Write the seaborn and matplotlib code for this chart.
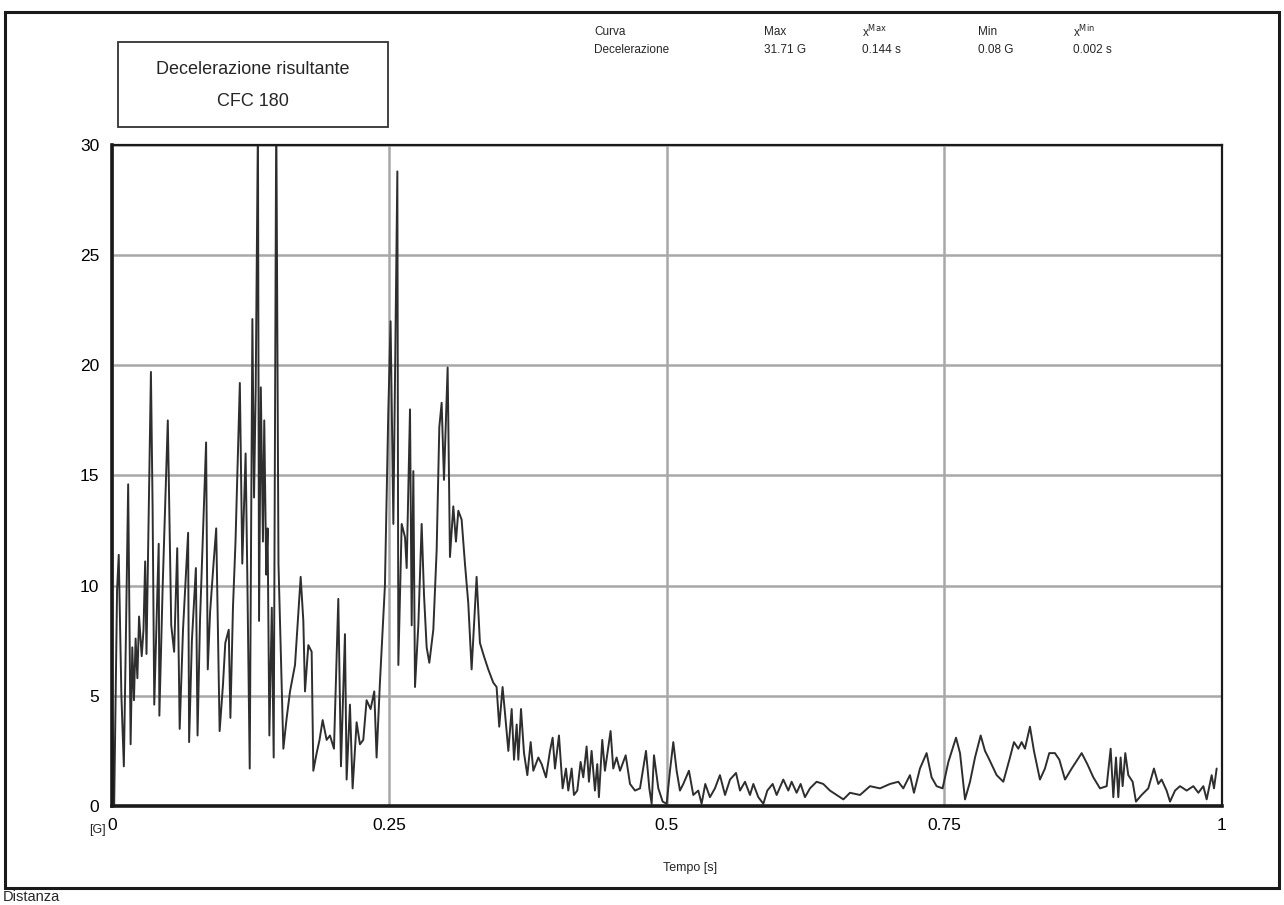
import numpy as np
import pandas as pd
import seaborn as sns
import matplotlib.pyplot as plt
from matplotlib.patches import Rectangle

# values (time in s, resultant deceleration in G)
time_s = [
    0.000, 0.002, 0.0046, 0.0061, 0.0085, 0.0107, 0.0125, 0.0146, 0.0168, 0.0183,
    0.0198, 0.0213, 0.0229, 0.0244, 0.0268, 0.0284, 0.0299, 0.0311, 0.0351, 0.0366,
    0.0381, 0.0421, 0.0427, 0.0457, 0.0503, 0.0534, 0.0560, 0.0588, 0.0610, 0.0640,
    0.0686, 0.0695, 0.0720, 0.0756, 0.0771, 0.0793, 0.0848, 0.0863, 0.0884, 0.0915,
    0.0939, 0.0970, 0.1000, 0.1021, 0.1052, 0.1067, 0.1090, 0.1113, 0.1152, 0.1174,
    0.1204, 0.1220, 0.1241, 0.1265, 0.1280, 0.1295, 0.1315, 0.1325, 0.1341, 0.1360,
    0.1372, 0.1390, 0.1402, 0.1418, 0.1440, 0.1457, 0.1480, 0.1500, 0.1544, 0.1574,
    0.1604, 0.1649, 0.1700, 0.1724, 0.1739, 0.1769, 0.1799, 0.1814, 0.1844, 0.1870,
    0.1898, 0.1934, 0.1964, 0.2000, 0.2039, 0.2063, 0.2099, 0.2114, 0.2144, 0.2168,
    0.2204, 0.2234, 0.2264, 0.2294, 0.2330, 0.2363, 0.2384, 0.2414, 0.2459, 0.2489,
    0.2510, 0.2535, 0.2571, 0.2580, 0.2610, 0.2640, 0.2655, 0.2685, 0.2700, 0.2715,
    0.2730, 0.2760, 0.2790, 0.2811, 0.2835, 0.2859, 0.2895, 0.2925, 0.2949, 0.2970,
    0.2991, 0.3024, 0.3045, 0.3075, 0.3099, 0.3120, 0.3150, 0.3180, 0.3210, 0.3240,
    0.3285, 0.3315, 0.3351, 0.3390, 0.3435, 0.3465, 0.3489, 0.3519, 0.3541, 0.3571,
    0.3601, 0.3622, 0.3646, 0.3661, 0.3685, 0.3712, 0.3742, 0.3772, 0.3796, 0.3841,
    0.3871, 0.3910, 0.3946, 0.3970, 0.3991, 0.4027, 0.4060, 0.4090, 0.4111, 0.4141,
    0.4162, 0.4192, 0.4222, 0.4246, 0.4276, 0.4297, 0.4321, 0.4351, 0.4372, 0.4387,
    0.4417, 0.4441, 0.4492, 0.4516, 0.4546, 0.4577, 0.4628, 0.4667, 0.4712, 0.4757,
    0.4811, 0.4841, 0.4862, 0.4883, 0.4922, 0.4961, 0.4997, 0.5027, 0.5057, 0.5087,
    0.5117, 0.5147, 0.5198, 0.5237, 0.5282, 0.5312, 0.5345, 0.5387, 0.5432, 0.5477,
    0.5523, 0.5568, 0.5622, 0.5658, 0.5703, 0.5748, 0.5778, 0.5823, 0.5868, 0.5904,
    0.5952, 0.5988, 0.6048, 0.6093, 0.6123, 0.6168, 0.6204, 0.6243, 0.6288, 0.6348,
    0.6408, 0.6468, 0.6529, 0.6589, 0.6649, 0.6739, 0.6829, 0.6919, 0.7009, 0.7084,
    0.7129, 0.7189, 0.7225, 0.7279, 0.7339, 0.7384, 0.7429, 0.7483, 0.7535, 0.7604,
    0.7640, 0.7685, 0.7730, 0.7775, 0.7826, 0.7865, 0.7895, 0.7970, 0.8030, 0.8090,
    0.8126, 0.8165, 0.8195, 0.8225, 0.8270, 0.8306, 0.8360, 0.8405, 0.8444, 0.8495,
    0.8535, 0.8586, 0.8646, 0.8736, 0.8787, 0.8841, 0.8901, 0.8961, 0.8997, 0.9021,
    0.9045, 0.9066, 0.9087, 0.9105, 0.9129, 0.9156, 0.9195, 0.9225, 0.9276, 0.9336,
    0.9387, 0.9426, 0.9456, 0.9501, 0.9532, 0.9577, 0.9622, 0.9682, 0.9742, 0.9787,
    0.9832, 0.9862, 0.9907, 0.9928, 0.9952,
]
decel_g = [
    4.5, 0.08, 9.8, 11.4, 5.0, 1.8, 7.5, 14.6, 2.8, 7.2,
    4.8, 7.6, 5.8, 8.6, 6.8, 8.0, 11.1, 6.9, 19.7, 13.6,
    4.6, 11.9, 4.1, 10.0, 17.5, 8.2, 7.0, 11.7, 3.5, 8.0,
    12.4, 2.9, 7.5, 10.8, 3.2, 8.4, 16.5, 6.2, 8.8, 11.0,
    12.6, 3.4, 5.5, 7.4, 8.0, 4.0, 9.0, 12.0, 19.2, 11.0,
    16.0, 10.2, 1.7, 22.1, 14.0, 19.0, 31.0, 8.4, 19.0, 12.0,
    17.5, 10.5, 12.6, 3.2, 9.0, 2.2, 31.71, 11.0, 2.6, 4.0,
    5.2, 6.4, 10.4, 8.4, 5.2, 7.3, 7.0, 1.6, 2.4, 3.0,
    3.9, 3.0, 3.2, 2.6, 9.4, 1.8, 7.8, 1.2, 4.6, 0.8,
    3.8, 2.8, 3.0, 4.8, 4.4, 5.2, 2.2, 5.6, 10.0, 17.8,
    22.0, 12.8, 28.8, 6.4, 12.8, 12.2, 10.8, 18.0, 8.2, 15.2,
    5.4, 8.2, 12.8, 9.6, 7.2, 6.5, 8.0, 11.6, 17.2, 18.3,
    14.8, 19.9, 11.3, 13.6, 12.0, 13.4, 13.0, 11.0, 9.2, 6.2,
    10.4, 7.4, 6.8, 6.2, 5.6, 5.4, 3.6, 5.4, 4.2, 2.5,
    4.4, 2.1, 3.7, 2.1, 4.4, 2.4, 1.4, 2.9, 1.6, 2.2,
    1.9, 1.3, 2.5, 3.1, 1.7, 3.2, 0.8, 1.7, 0.7, 1.7,
    0.5, 0.7, 2.0, 1.3, 2.7, 1.1, 2.5, 0.7, 1.9, 0.4,
    3.0, 1.6, 3.4, 1.7, 2.2, 1.6, 2.3, 1.0, 0.7, 0.8,
    2.5, 0.8, 0.1, 2.3, 0.8, 0.2, 0.1, 1.6, 2.9, 1.6,
    0.7, 1.0, 1.6, 0.5, 0.7, 0.1, 1.0, 0.4, 0.8, 1.4,
    0.5, 1.2, 1.5, 0.7, 1.1, 0.5, 1.0, 0.4, 0.1, 0.7,
    1.0, 0.5, 1.2, 0.7, 1.1, 0.6, 1.0, 0.4, 0.8, 1.1,
    1.0, 0.7, 0.5, 0.3, 0.6, 0.5, 0.9, 0.8, 1.0, 1.1,
    0.8, 1.4, 0.6, 1.7, 2.4, 1.3, 0.9, 0.8, 2.0, 3.1,
    2.4, 0.3, 1.1, 2.2, 3.2, 2.5, 2.2, 1.4, 1.1, 2.2,
    2.9, 2.6, 2.9, 2.6, 3.6, 2.5, 1.2, 1.7, 2.4, 2.4,
    2.1, 1.2, 1.7, 2.4, 1.9, 1.3, 0.8, 0.9, 2.6, 0.4,
    2.2, 0.4, 2.2, 0.9, 2.4, 1.4, 1.1, 0.2, 0.5, 0.8,
    1.7, 1.0, 1.2, 0.7, 0.2, 0.7, 0.9, 0.7, 0.9, 0.6,
    0.9, 0.3, 1.4, 0.8, 1.7,
]

y_ticks = [0, 5, 10, 15, 20, 25, 30]
x_ticks = [0, 0.25, 0.5, 0.75, 1]
x_tick_labels = ["0", "0.25", "0.5", "0.75", "1"]

header_cols = ["Curva", "Max", "x$^{\\mathrm{Max}}$", "Min", "x$^{\\mathrm{Min}}$"]
header_vals = ["Decelerazione", "31.71 G", "0.144 s", "0.08 G", "0.002 s"]

df = pd.DataFrame({"Tempo": time_s, "Decelerazione": decel_g})

sns.set_style("white")
plt.rcParams["font.family"] = ["Liberation Sans", "DejaVu Sans"]

fig = plt.figure(figsize=(12.84, 9.05), dpi=100)
ax = fig.add_axes([0.0872, 0.1094, 0.8645, 0.7304])

sns.lineplot(data=df, x="Tempo", y="Decelerazione", ax=ax, sort=False,
             estimator=None, color="#2e2e2e", linewidth=1.4)

ax.set_xlim(0, 1)
ax.set_ylim(0, 30)
ax.set_xticks(x_ticks)
ax.set_xticklabels(x_tick_labels)
ax.set_yticks(y_ticks)
ax.set_xticks(np.arange(0.125, 1, 0.25), minor=True)
ax.set_yticks(np.arange(2.5, 30, 5), minor=True)
ax.tick_params(axis="both", which="major", direction="inout", length=12,
               width=1.5, labelsize=12.5, colors="black", pad=3)
ax.tick_params(axis="both", which="minor", direction="inout", length=8, width=1.5)
ax.grid(True, which="major", color="#a8a8a8", linewidth=1.8)
ax.set_axisbelow(True)
ax.set_xlabel("")
ax.set_ylabel("")
for side in ["left", "bottom"]:
    ax.spines[side].set_linewidth(2.6)
for side in ["top", "right"]:
    ax.spines[side].set_linewidth(1.6)
for sp in ax.spines.values():
    sp.set_color("#1a1a1a")

fig.text(97 / 1284, 1 - 830 / 905, "[G]", fontsize=9, ha="center", va="center")
fig.text(690 / 1284, 1 - 868 / 905, "Tempo [s]", fontsize=9, ha="center", va="center")

# title box
fig.patches.append(Rectangle((118 / 1284, 1 - 127 / 905), 270 / 1284, 85 / 905,
                             transform=fig.transFigure, fill=False,
                             edgecolor="#333333", linewidth=1.3))
fig.text(253 / 1284, 1 - 70 / 905, "Decelerazione risultante", fontsize=13,
         ha="center", va="center")
fig.text(253 / 1284, 1 - 101 / 905, "CFC 180", fontsize=13, ha="center", va="center")

# header table
col_x = [594, 764, 862, 978, 1073]
for cx, name, val in zip(col_x, header_cols, header_vals):
    fig.text(cx / 1284, 1 - 32 / 905, name, fontsize=8.5, ha="left", va="center")
    fig.text(cx / 1284, 1 - 50 / 905, val, fontsize=8.5, ha="left", va="center")

# outer frame of the page
fig.patches.append(Rectangle((5 / 1284, 1 - 888 / 905), 1274 / 1284, 876 / 905,
                             transform=fig.transFigure, fill=False,
                             edgecolor="#1a1a1a", linewidth=2.2))
fig.text(3 / 1284, 1 - 897 / 905, "Distanza", fontsize=10.5, ha="left", va="center")

fig.savefig("out.png", dpi=100, facecolor="white")
